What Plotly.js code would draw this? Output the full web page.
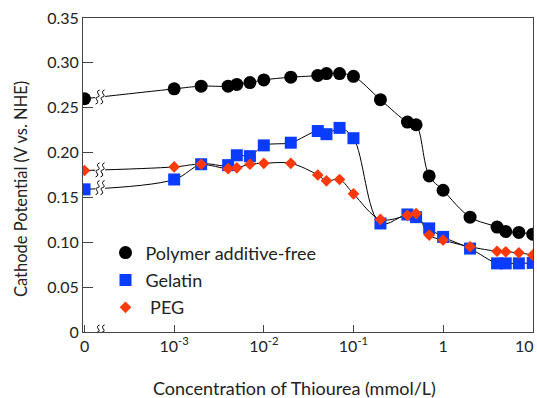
<!DOCTYPE html>
<html>
<head>
<meta charset="utf-8">
<script src="https://cdn.plot.ly/plotly-3.0.1.min.js"></script>
<style>html,body{margin:0;padding:0;background:#fff;}#chart{width:537px;height:398px;}</style>
</head>
<body>
<div id="chart"></div>
<script>
// Concentration of thiourea (mmol/L); 0 is drawn at the axis break position
const concentration = [0, 0.001, 0.002, 0.004, 0.005, 0.007, 0.01, 0.02, 0.04, 0.05, 0.07, 0.1, 0.2, 0.4, 0.5, 0.7, 1, 2, 4, 5, 7, 10];
const additiveFree = [0.260, 0.271, 0.274, 0.274, 0.276, 0.278, 0.281, 0.284, 0.286, 0.288, 0.288, 0.285, 0.259, 0.234, 0.231, 0.174, 0.158, 0.128, 0.117, 0.112, 0.111, 0.109];
const gelatin = [0.159, 0.170, 0.187, 0.186, 0.197, 0.196, 0.208, 0.211, 0.224, 0.2205, 0.2275, 0.216, 0.121, 0.131, 0.128, 0.1155, 0.106, 0.093, 0.0765, 0.0765, 0.0765, 0.077];
const peg = [0.180, 0.184, 0.187, 0.182, 0.183, 0.187, 0.188, 0.188, 0.175, 0.1685, 0.170, 0.154, 0.1255, 0.130, 0.132, 0.108, 0.1025, 0.095, 0.090, 0.0894, 0.0883, 0.0857];
const seriesNames = ['Polymer additive-free', 'Gelatin', ' PEG'];
const xTickVals = [0, 0.001, 0.01, 0.1, 1, 10];
const xTickText = ['0', '10<sup>-3</sup>', '10<sup>-2</sup>', '10<sup>-1</sup>', '1', '10'];
const yTickVals = [0, 0.05, 0.10, 0.15, 0.20, 0.25, 0.30, 0.35];
const yTickText = ['0', '0.05', '0.10', '0.15', '0.20', '0.25', '0.30', '0.35'];
const xTitle = 'Concentration of Thiourea (mmol/L)';
const yTitle = 'Cathode Potential (V vs. NHE)';

const ZERO_POS = 1e-4; // where "0" sits on the broken log axis
const mapX = v => (v === 0 ? ZERO_POS : v);
const xs = concentration.map(mapX);

const FONT = 'Lato, "Open Sans", sans-serif';
const TXT = '#222';
const styles = [
  {symbol: 'circle', color: '#000000', size: 13},
  {symbol: 'square', color: '#0a3cff', size: 12},
  {symbol: 'diamond', color: '#ff3a0a', size: 9}
];
const allSeries = [additiveFree, gelatin, peg];

const traces = [];
allSeries.forEach((ys, i) => {
  traces.push({
    x: xs, y: ys, type: 'scatter', mode: 'lines',
    line: {color: '#000', width: 1, shape: 'spline', smoothing: 1},
    showlegend: false, hoverinfo: 'skip'
  });
});
allSeries.forEach((ys, i) => {
  traces.push({
    x: xs, y: ys, type: 'scatter', mode: 'markers', name: seriesNames[i],
    legendgroup: 'g' + i,
    marker: {symbol: styles[i].symbol, color: styles[i].color, size: styles[i].size, line: {width: 0}}
  });
});

// Break marks (squiggles) on the axis and on each curve
const BREAK_PAPER_X = 0.038;
const squiggle = (dx) => {
  return `M ${dx-2},-7 C ${dx+4},-5 ${dx-5},-1 ${dx},0 C ${dx+5},1 ${dx-4},5 ${dx+2},7`;
};
const shapes = [];
function addBreak(yVal) {
  shapes.push({type: 'rect', xref: 'paper', yref: 'y', xsizemode: 'pixel', ysizemode: 'pixel',
    xanchor: BREAK_PAPER_X, yanchor: yVal, x0: -5, x1: 5, y0: -3, y1: 3,
    fillcolor: '#ffffff', line: {width: 0}, layer: 'above'});
  shapes.push({type: 'path', xref: 'paper', yref: 'y', xsizemode: 'pixel', ysizemode: 'pixel',
    xanchor: BREAK_PAPER_X, yanchor: yVal,
    path: squiggle(-2.5) + ' ' + squiggle(2.5),
    line: {color: '#000', width: 1}, layer: 'above'});
}
const xRange = [Math.log10(ZERO_POS) - 0.017, 1.003];
const breakLog = xRange[0] + BREAK_PAPER_X * (xRange[1] - xRange[0]);
allSeries.forEach(ys => {
  const l0 = Math.log10(xs[0]), l1 = Math.log10(xs[1]);
  const f = (breakLog - l0) / (l1 - l0);
  addBreak(ys[0] + f * (ys[1] - ys[0]));
});
addBreak(0);

// The last tick label sits at the window edge: draw it right-aligned as an annotation
const lastIdx = xTickText.length - 1;
const axisTickText = xTickText.map((t, i) => (i === lastIdx ? '' : t));

const layout = {
  width: 537, height: 398,
  margin: {l: 83, r: 4, t: 18, b: 66},
  paper_bgcolor: '#fff', plot_bgcolor: '#fff',
  font: {family: FONT, size: 16, color: TXT},
  showlegend: true,
  legend: {x: 0.05, y: 0.311, xanchor: 'left', yanchor: 'top', bgcolor: 'rgba(0,0,0,0)',
    font: {family: FONT, size: 18, color: TXT}, traceorder: 'grouped', tracegroupgap: 1},
  xaxis: {
    type: 'log', range: xRange,
    tickvals: xTickVals.map(mapX), ticktext: axisTickText,
    ticks: 'inside', ticklen: 7, tickcolor: '#444', tickwidth: 1,
    showline: true, linecolor: '#444', linewidth: 1, mirror: true,
    showgrid: false, zeroline: false,
    tickfont: {family: FONT, size: 16, color: TXT}
  },
  yaxis: {
    range: [0, 0.35],
    tickvals: yTickVals, ticktext: yTickText,
    ticks: 'inside', ticklen: 10, tickcolor: '#444', tickwidth: 1,
    showline: true, linecolor: '#444', linewidth: 1, mirror: true,
    showgrid: false, zeroline: false,
    tickfont: {family: FONT, size: 16, color: TXT}
  },
  annotations: [
    {text: xTickText[lastIdx], xref: 'paper', yref: 'paper', x: 1, xshift: 3, y: -0.042,
      xanchor: 'right', yanchor: 'middle', showarrow: false, font: {family: FONT, size: 16, color: TXT}},
    {text: xTitle, xref: 'paper', yref: 'paper', x: 0.471, y: -0.178, xanchor: 'center', yanchor: 'middle',
      showarrow: false, font: {family: FONT, size: 18, color: TXT}},
    {text: yTitle, xref: 'paper', yref: 'paper', x: -0.138, y: 0.455, xanchor: 'center', yanchor: 'middle',
      textangle: -90, showarrow: false, font: {family: FONT, size: 16.5, color: TXT}}
  ],
  shapes: shapes
};

Plotly.newPlot('chart', traces, layout, {displayModeBar: false, staticPlot: true});
</script>
</body>
</html>
